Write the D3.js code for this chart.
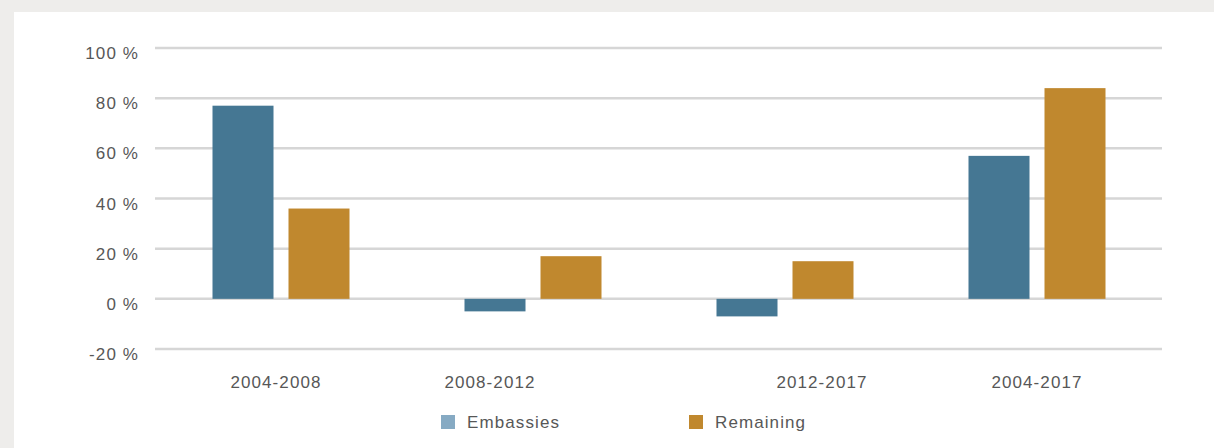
<!DOCTYPE html>
<html>
<head>
<meta charset="utf-8">
<style>
  body { margin: 0; background: #eeedeb; }
  svg { display: block; }
  .tick-label, .cat-label, .legend-label {
    font-family: "Liberation Sans", Arial, sans-serif;
    font-size: 17px;
    fill: #575757;
    letter-spacing: 1.1px;
  }
</style>
</head>
<body>
<svg width="1214" height="448"></svg>
<script src="https://d3js.org/d3.v7.min.js"></script>
<script>
// data
const periods = ['2004-2008', '2008-2012', '2012-2017', '2004-2017'];
const seriesNames = ['Embassies', 'Remaining'];
const embassies = [77, -5, -7, 57];
const remaining = [36, 17, 15, 84];
const yTicks = [-20, 0, 20, 40, 60, 80, 100];
// the category labels in the original sit a bit off their group centre
const labelShift = [-5, -43, 37, 0];

const barColors = ['#457793', '#c0882e'];
const legendColors = ['#86aac3', '#c0882e'];

const svg = d3.select('svg');

// white panel
svg.append('rect')
    .attr('x', 14).attr('y', 12)
    .attr('width', 1200).attr('height', 436)
    .attr('fill', '#fff');

const x = d3.scaleBand()
    .domain(periods)
    .range([155, 1163]);

const y = d3.scaleLinear()
    .domain([-20, 100])
    .range([349, 48]);

const barW = 61, gap = 15;

// gridlines
svg.append('g')
    .selectAll('line')
    .data(yTicks)
    .join('line')
    .attr('x1', 155).attr('x2', 1162)
    .attr('y1', d => y(d)).attr('y2', d => y(d))
    .attr('stroke', '#d6d6d6')
    .attr('stroke-width', 2.5);

// y tick labels
svg.append('g')
    .selectAll('text')
    .data(yTicks)
    .join('text')
    .attr('class', 'tick-label')
    .attr('x', 139)
    .attr('y', d => y(d) + 11)
    .attr('text-anchor', 'end')
    .text(d => d + ' %');

// bars
const rows = periods.map((p, i) => ({ period: p, values: [embassies[i], remaining[i]] }));

const groups = svg.append('g')
    .selectAll('g')
    .data(rows)
    .join('g')
    .attr('transform', d => `translate(${x(d.period) + x.bandwidth() / 2 - barW - gap / 2},0)`);

groups.selectAll('rect')
    .data(d => d.values)
    .join('rect')
    .attr('x', (d, i) => i * (barW + gap))
    .attr('y', d => y(Math.max(0, d)))
    .attr('width', barW)
    .attr('height', d => Math.abs(y(d) - y(0)))
    .attr('fill', (d, i) => barColors[i]);

// category labels
svg.append('g')
    .selectAll('text')
    .data(periods)
    .join('text')
    .attr('class', 'cat-label')
    .attr('x', (d, i) => x(d) + x.bandwidth() / 2 + labelShift[i])
    .attr('y', 388)
    .attr('text-anchor', 'middle')
    .text(d => d);

// legend
const legend = svg.append('g')
    .selectAll('g')
    .data(seriesNames)
    .join('g')
    .attr('transform', (d, i) => `translate(${441 + i * 248},415)`);

legend.append('rect')
    .attr('width', 14).attr('height', 14)
    .attr('fill', (d, i) => legendColors[i]);

legend.append('text')
    .attr('class', 'legend-label')
    .attr('x', 26)
    .attr('y', 13)
    .text(d => d);
</script>
</body>
</html>
